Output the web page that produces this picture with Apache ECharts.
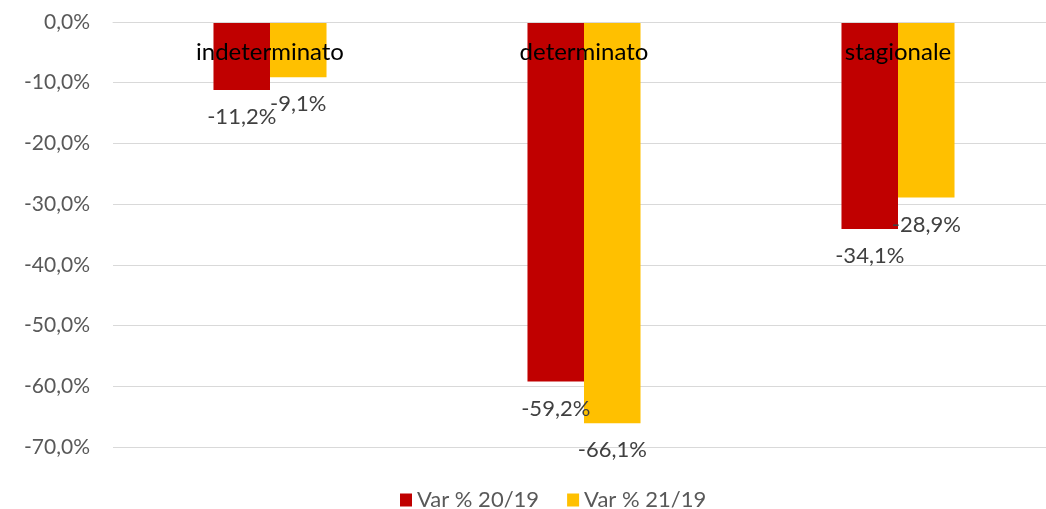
<!DOCTYPE html>
<html>
<head>
<meta charset="utf-8">
<script src="https://cdn.jsdelivr.net/npm/echarts@6/dist/echarts.min.js"></script>
<style>html,body{margin:0;padding:0;background:#fff;overflow:hidden;width:1046px;height:509px}#c{width:1055px;height:509px}</style>
</head>
<body>
<div id="c"></div>
<script>
var categories = ['indeterminato', 'determinato', 'stagionale'];
var seriesNames = ['Var % 20/19', 'Var % 21/19'];
var var2019 = [-11.2, -59.2, -34.1];
var var2119 = [-9.1, -66.1, -28.9];
var yTicks = [0, -10, -20, -30, -40, -50, -60, -70];

function fmt(v) { return v.toFixed(1).replace('.', ',') + '%'; }
var FONT = 'Lato, "Open Sans", sans-serif';

var chart = echarts.init(document.getElementById('c'), null, {renderer: 'canvas'});
chart.setOption({
  animation: false,
  textStyle: {fontFamily: FONT},
  grid: {left: 113, top: 22, right: 0, height: 425, containLabel: false},
  legend: {
    top: 484, left: 395,
    itemWidth: 12, itemHeight: 13, itemGap: 28,
    icon: 'rect',
    textStyle: {fontSize: 22, color: '#595959', fontFamily: FONT},
    data: seriesNames
  },
  xAxis: {
    type: 'category', data: categories, position: 'top', z: 10,
    axisLine: {show: true, lineStyle: {color: '#d9d9d9'}},
    axisTick: {show: false},
    axisLabel: {inside: true, margin: 18, fontSize: 24, color: '#000', fontFamily: FONT}
  },
  yAxis: {
    type: 'value', min: yTicks[yTicks.length - 1], max: yTicks[0], interval: 10,
    axisLine: {show: false}, axisTick: {show: false},
    splitLine: {lineStyle: {color: '#d9d9d9', width: 1}},
    axisLabel: {fontSize: 21, color: '#595959', margin: 23, fontFamily: FONT, formatter: function (v) { return fmt(v); }}
  },
  series: [
    {name: seriesNames[0], type: 'bar', data: var2019, barGap: '0%', barCategoryGap: '64%',
     itemStyle: {color: '#C00000'},
     label: {show: true, position: 'bottom', distance: 16, fontSize: 22, color: '#404040', fontFamily: FONT, formatter: function (p) { return fmt(p.value); }}},
    {name: seriesNames[1], type: 'bar', data: var2119, barGap: '0%', barCategoryGap: '64%',
     itemStyle: {color: '#FFC000'},
     label: {show: true, position: 'bottom', distance: 16, fontSize: 22, color: '#404040', fontFamily: FONT, formatter: function (p) { return fmt(p.value); }}}
  ]
});
</script>
</body>
</html>
